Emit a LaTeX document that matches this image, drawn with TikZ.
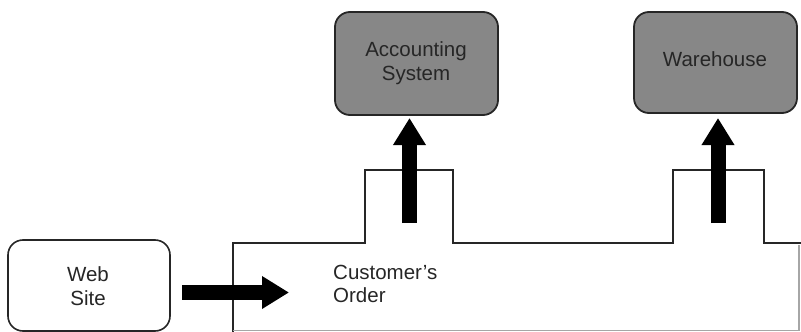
\documentclass[tikz,border=0pt]{standalone}
\usepackage{fontspec}
\setmainfont{Liberation Sans}
\usetikzlibrary{arrows.meta}
\begin{document}
\begin{tikzpicture}[x=1pt,y=-1pt,
  lbl/.style={font=\fontsize{20.5}{23.5}\selectfont, align=center, text=black!85},
  sysbox/.style={draw=black!85, line width=1.8pt, rounded corners=15pt, fill=black!47, inner sep=0pt},
  webbox/.style={draw=black!85, line width=1.6pt, rounded corners=15pt, fill=white, inner sep=0pt},
  fat/.style={line width=15pt, line cap=butt, -{Triangle[width=31pt,length=27pt]}}]
\useasboundingbox (0,0) rectangle (801,332);
% order shape
\draw[line width=1.5pt, black!85, line join=miter]
  (233,332) -- (233,243) -- (365,243) -- (365,170) -- (453,170) -- (453,243)
  -- (673,243) -- (673,170) -- (764,170) -- (764,243) -- (801,243);
\draw[line width=1.2pt, black!35] (233,330.5) -- (799,330.5) -- (799,245);
% nodes
\node[webbox, minimum width=162pt, minimum height=91pt] (web) at (89,285.5) {};
\node[lbl] (webt) at (88,286) {Web\\Site};
\node[sysbox, minimum width=163pt, minimum height=103pt] (acc) at (416.5,63.5) {};
\node[lbl] (acct) at (416,63) {Accounting\\System};
\node[sysbox, minimum width=163pt, minimum height=101pt] (wh) at (715.5,62.5) {};
\node[lbl] (wht) at (715,59) {Warehouse};
\node[lbl, align=left, anchor=west, inner sep=0pt] (order) at (333,284) {Customer’s\\Order};
% connectors
\coordinate (r1) at (182,292.5);
\coordinate (r2) at (289,292.5);
\draw[fat] (r1) -- (r2);
\coordinate (u1) at (409.5,223);
\coordinate (u2) at (409.5,118);
\draw[fat] (u1) -- (u2);
\coordinate (w1) at (718,223);
\coordinate (w2) at (718,118);
\draw[fat] (w1) -- (w2);
\end{tikzpicture}
\end{document}
